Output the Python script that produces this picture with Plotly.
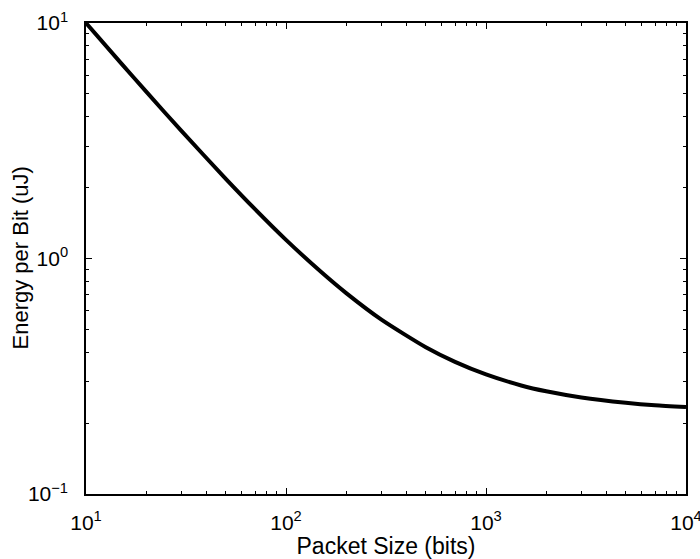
import plotly.graph_objects as go

# Packet size (bits) and the resulting energy per bit (uJ)
packet_bits = [10, 15, 20, 30, 50, 70, 100, 150, 200, 300, 500, 700,
               1000, 1500, 2000, 3000, 5000, 7000, 10000]
energy_uj = [10.0, 6.74, 5.11, 3.48, 2.18, 1.62, 1.20, 0.876, 0.713, 0.55,
             0.42, 0.364, 0.322, 0.289, 0.273, 0.257, 0.244, 0.238, 0.234]

# Tick positions and labels
x_major = [10, 100, 1000, 10000]
x_labels = ["10<sup>1</sup>", "10<sup>2</sup>", "10<sup>3</sup>", "10<sup>4</sup>"]
y_major = [0.1, 1, 10]
y_labels = ["10<sup>\u22121</sup>", "10<sup>0</sup>", "10<sup>1</sup>"]
x_minor = [m * 10 ** k for k in range(1, 4) for m in range(2, 10)]
y_minor = [m * 10 ** k for k in range(-1, 1) for m in range(2, 10)]

FONT = "Liberation Sans, Arial, Helvetica, sans-serif"

fig = go.Figure()
fig.add_trace(go.Scatter(
    x=packet_bits, y=energy_uj, mode="lines",
    line=dict(color="black", width=4, shape="spline", smoothing=0.6),
    showlegend=False,
))

axis_common = dict(
    type="log",
    showline=True, linecolor="black", linewidth=1.5, mirror="ticks",
    ticks="inside", ticklen=6, tickwidth=1, tickcolor="black",
    showgrid=False, zeroline=False,
    tickfont=dict(family=FONT, size=21, color="black"),
    ticklabeloverflow="allow",
)

fig.update_xaxes(
    **axis_common,
    range=[1, 4],
    tickmode="array", tickvals=x_major, ticktext=x_labels,
    minor=dict(tickmode="array", tickvals=x_minor, ticks="inside",
               ticklen=3, tickcolor="black", showgrid=False),
    title=dict(text="Packet Size (bits)", standoff=0,
               font=dict(family=FONT, size=23, color="black")),
    ticklabelstandoff=9,
    automargin=False,
)
fig.update_yaxes(
    **axis_common,
    range=[-1, 1],
    tickmode="array", tickvals=y_major, ticktext=y_labels,
    minor=dict(tickmode="array", tickvals=y_minor, ticks="inside",
               ticklen=3, tickcolor="black", showgrid=False),
    ticklabelstandoff=12,
    automargin=False,
)

# y-axis title, placed close to the tick labels
fig.add_annotation(
    text="Energy per Bit (uJ)", textangle=-90,
    xref="paper", yref="paper", x=(20 - 86) / 600, y=0.5,
    xanchor="center", yanchor="middle", showarrow=False,
    font=dict(family=FONT, size=22, color="black"),
)

fig.update_layout(
    width=700, height=559,
    margin=dict(l=86, r=14, t=23, b=65),
    plot_bgcolor="white", paper_bgcolor="white",
)

fig.write_html("out.html")
